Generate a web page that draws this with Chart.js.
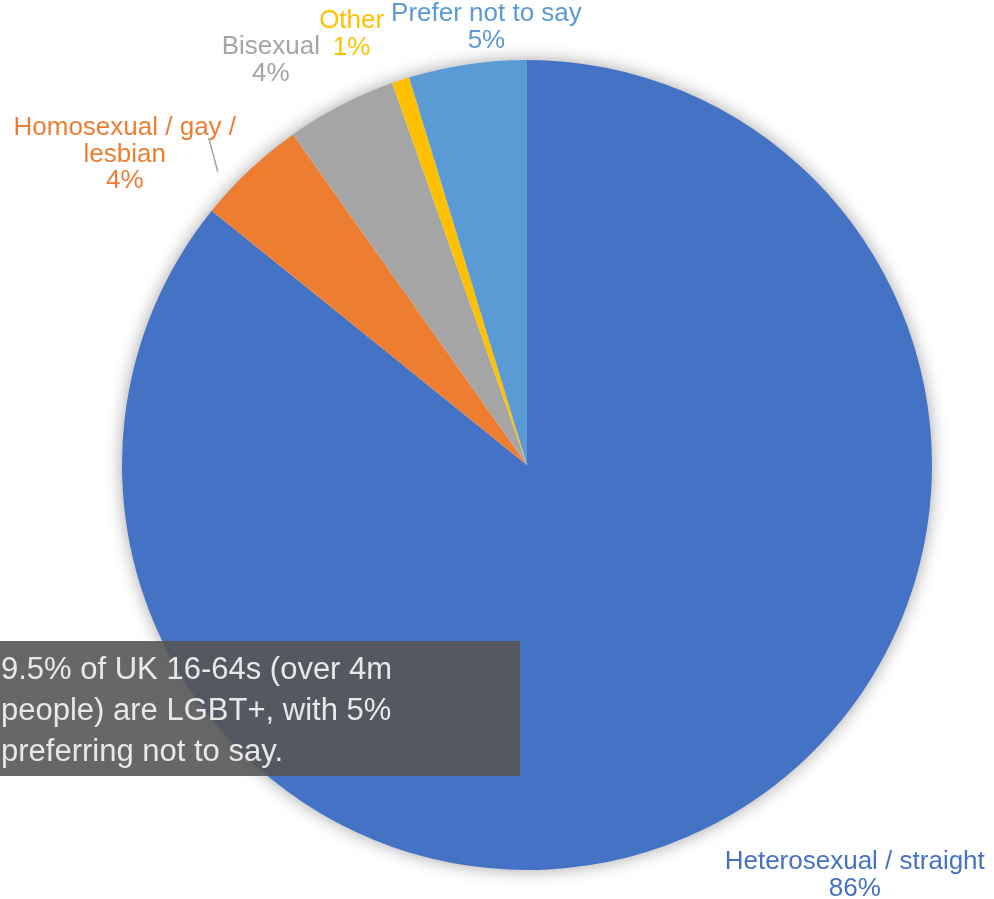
<!DOCTYPE html>
<html>
<head>
<meta charset="utf-8">
<script src="https://cdn.jsdelivr.net/npm/chart.js@4.4.1/dist/chart.umd.min.js"></script>
<style>
  html,body{margin:0;padding:0;background:#fff;}
  #wrap{position:relative;width:994px;height:899px;}
  #note{
    position:absolute;left:0;top:641px;width:520px;height:135px;box-sizing:border-box;
    padding:7px 0 0 1px;background:rgba(87,87,87,0.9);color:#e8e8e8;
    font-family:"Liberation Sans",Arial,Helvetica,sans-serif;font-size:31px;line-height:41px;
  }
</style>
</head>
<body>
<div id="wrap">
  <canvas id="pie" width="994" height="899"></canvas>
  <div id="note">9.5% of UK 16-64s (over 4m<br>people) are LGBT+, with 5%<br>preferring not to say.</div>
</div>
<script>
// Sexual orientation share, clockwise from 12 o'clock
const labels = [["Heterosexual / straight"], ["Homosexual / gay /", "lesbian"], ["Bisexual"], ["Other"], ["Prefer not to say"]];
const shares = [85.8, 4.4, 4.4, 0.7, 4.7];
const colors = ["#4472C4", "#ED7D31", "#A5A5A5", "#FFC000", "#5B9BD5"];

// label block nudges from the slice's outer edge (centre of the text block)
const labelNudge = [[153, 45], [-125, -15], [-70, -45], [-49, -46], [19, -37]];

// soft glow under the whole pie
const pieShadow = {
  id: 'pieShadow',
  beforeDatasetsDraw(chart){
    const arc = chart.getDatasetMeta(0).data[0];
    if(!arc) return;
    const ctx = chart.ctx;
    ctx.save();
    ctx.shadowColor = 'rgba(0,0,0,0.4)';
    ctx.shadowBlur = 18;
    ctx.fillStyle = '#fff';
    ctx.beginPath();
    ctx.arc(arc.x, arc.y, arc.outerRadius - 1, 0, Math.PI*2);
    ctx.fill();
    ctx.restore();
  }
};

// outside category labels with percentages
const sliceLabels = {
  id: 'sliceLabels',
  afterDatasetsDraw(chart){
    const ctx = chart.ctx;
    const meta = chart.getDatasetMeta(0);
    const total = shares.reduce((a,b)=>a+b,0);
    ctx.save();
    ctx.font = '26px "Liberation Sans", Arial, Helvetica, sans-serif';
    ctx.textAlign = 'center';
    ctx.textBaseline = 'middle';
    meta.data.forEach((arc, i)=>{
      const mid = (arc.startAngle + arc.endAngle)/2;
      const ex = arc.x + Math.cos(mid)*arc.outerRadius;
      const ey = arc.y + Math.sin(mid)*arc.outerRadius;
      const cx = ex + labelNudge[i][0];
      const cy = ey + labelNudge[i][1];
      const lines = labels[i].concat([Math.round(shares[i]/total*100) + '%']);
      const lh = 26.5;
      const top = cy - (lines.length-1)*lh/2;
      ctx.fillStyle = colors[i];
      lines.forEach((t, j)=> ctx.fillText(t, cx, top + j*lh));
      if(i === 1){
        // leader line for the gay / lesbian label
        ctx.strokeStyle = '#A5A5A5';
        ctx.lineWidth = 1.5;
        ctx.beginPath();
        ctx.moveTo(ex - 41, ey - 32);
        ctx.lineTo(ex - 32, ey + 2);
        ctx.stroke();
      }
    });
    ctx.restore();
  }
};

new Chart(document.getElementById('pie'), {
  type: 'pie',
  data: {
    labels: labels.map(l=>l.join(' ')),
    datasets: [{
      data: shares,
      backgroundColor: colors,
      borderWidth: 0
    }]
  },
  options: {
    responsive: false,
    animation: false,
    layout: { padding: { left: 122, right: 62, top: 60, bottom: 29 } },
    plugins: { legend: { display: false }, tooltip: { enabled: false } }
  },
  plugins: [pieShadow, sliceLabels]
});
</script>
</body>
</html>
